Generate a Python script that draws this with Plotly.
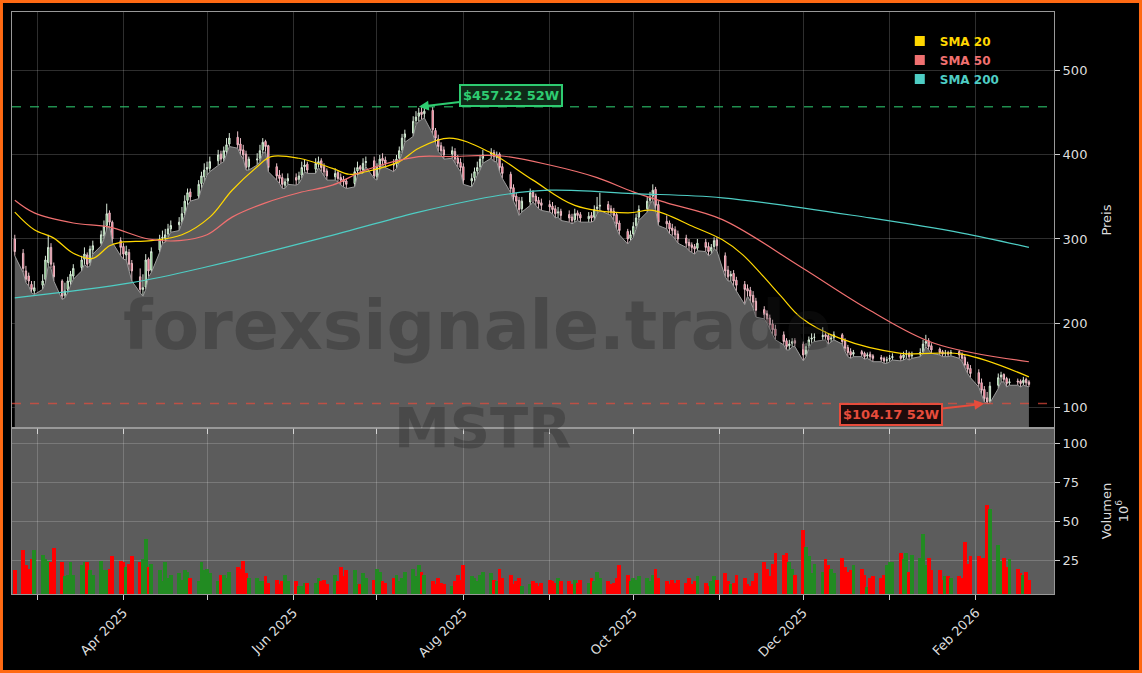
import pandas as pd
import plotly.graph_objects as go
from plotly.subplots import make_subplots

# --- daily data (USD / millions of shares) ---
dates = pd.bdate_range("2025-02-21", "2026-02-20")

closes = [285,
    265, 252, 250, 240, 242,  250, 275, 290, 270, 255,  232, 238, 250, 258, 265,
    275, 282, 270, 288, 292,  305, 315, 330, 320, 300,  290, 282, 285, 270, 262,
    240, 242, 275, 262, 285,  300, 302, 305, 312, 316,  320, 330, 345, 355, 350,
    365, 375, 382, 385, 392,  400, 395, 405, 412, 420,  412, 405, 400, 385, 395,
    395, 405, 415, 410, 385,  375, 372, 365, 368, 372,  370, 375, 385, 388, 382,
    390, 392, 385, 380, 375,  378, 372, 370, 368, 365,  380, 385, 383, 390, 392,
    375, 385, 395, 393, 390,  388, 395, 405, 420, 425,  440, 445, 450, 448, 452,
    430, 420, 410, 405, 400,  405, 395, 390, 385, 370,  372, 380, 385, 395, 400,
    402, 398, 400, 385, 378,  360, 350, 345, 335, 345,  355, 350, 345, 342, 340,
    338, 335, 330, 332, 328,  325, 322, 330, 328, 325,  327, 325, 335, 338, 340,
    335, 332, 328, 318, 310,  300, 305, 315, 325, 335,  345, 350, 358, 340, 320,
    318, 312, 310, 305, 300,  295, 292, 290, 288, 295,  290, 285, 290, 298, 292,
    262, 255, 258, 250, 245,  240, 238, 232, 225, 215,  210, 205, 198, 192, 185,
    178, 172, 175, 178, 176,  162, 172, 180, 182, 183,  185, 184, 180, 182, 186,
    178, 170, 165, 162, 165,  163, 160, 162, 160, 158,  157, 155, 156, 158, 160,
    158, 162, 163, 160, 162,  165, 175, 178, 172, 168,  165, 163, 164, 163, 165,
    162, 158, 150, 145, 140,  128, 120, 110, 106, 125,  135, 138, 133, 128, 130,
    130, 128, 132, 129, 127]

opens = [300,
    283, 262, 256, 246, 238,  245, 252, 272, 290, 268,  250, 233, 240, 249, 256,
    266, 276, 281, 272, 287,  295, 304, 316, 331, 320,  298, 291, 281, 284, 271,
    255, 240, 243, 276, 263,  287, 301, 301, 306, 312,  317, 321, 331, 346, 356,
    351, 366, 374, 383, 384,  393, 401, 396, 404, 413,  421, 413, 406, 401, 386,
    394, 396, 406, 416, 411,  386, 376, 373, 364, 369,  373, 371, 376, 386, 389,
    383, 389, 393, 386, 381,  374, 379, 373, 371, 369,  366, 381, 386, 382, 391,
    393, 374, 386, 396, 394,  389, 389, 396, 406, 421,  426, 441, 446, 451, 449,
    453, 429, 419, 411, 406,  401, 404, 396, 391, 386,  369, 373, 381, 386, 396,
    401, 403, 397, 401, 386,  377, 361, 351, 346, 336,  344, 356, 351, 346, 343,
    341, 339, 336, 331, 333,  329, 326, 323, 331, 329,  324, 328, 326, 336, 339,
    341, 336, 333, 329, 319,  309, 301, 306, 316, 326,  336, 346, 351, 359, 341,
    321, 319, 313, 311, 306,  301, 296, 293, 291, 289,  296, 291, 286, 291, 299,
    280, 263, 256, 259, 251,  246, 241, 239, 233, 226,  216, 211, 206, 199, 193,
    186, 179, 173, 176, 179,  175, 163, 173, 181, 183,  184, 186, 185, 181, 183,
    186, 179, 171, 166, 163,  166, 164, 161, 163, 161,  159, 158, 156, 157, 159,
    161, 159, 163, 164, 161,  163, 166, 176, 179, 173,  169, 166, 164, 165, 164,
    166, 163, 159, 151, 146,  141, 129, 121, 111, 107,  126, 136, 139, 134, 129,
    131, 131, 129, 133, 130]

highs = [305,
    288, 268, 260, 250, 250,  258, 280, 305, 295, 272,  252, 248, 255, 262, 270,
    280, 290, 284, 292, 298,  310, 322, 342, 334, 322,  302, 295, 292, 288, 275,
    265, 258, 282, 278, 290,  305, 310, 312, 318, 322,  326, 338, 352, 360, 360,
    370, 380, 390, 392, 398,  406, 405, 410, 420, 426,  428, 420, 412, 405, 398,
    402, 412, 420, 418, 412,  390, 382, 378, 372, 378,  378, 380, 392, 394, 392,
    396, 398, 396, 390, 384,  384, 382, 378, 375, 372,  385, 392, 388, 396, 398,
    398, 390, 400, 402, 398,  395, 400, 410, 425, 430,  446, 452, 456, 457.22, 457,
    457, 432, 424, 415, 410,  410, 408, 400, 396, 390,  378, 385, 392, 400, 406,
    408, 406, 404, 403, 390,  380, 365, 355, 350, 350,  360, 358, 354, 350, 348,
    346, 344, 340, 338, 336,  334, 330, 336, 334, 332,  332, 332, 340, 350, 355,
    345, 340, 337, 332, 322,  312, 310, 320, 330, 340,  350, 356, 365, 362, 345,
    328, 322, 318, 315, 310,  305, 300, 296, 294, 300,  300, 296, 294, 302, 302,
    284, 268, 262, 263, 255,  250, 246, 243, 238, 230,  220, 215, 210, 204, 198,
    190, 182, 180, 182, 182,  178, 176, 184, 188, 188,  195, 190, 188, 186, 190,
    188, 182, 174, 170, 168,  168, 166, 165, 166, 163,  162, 160, 160, 162, 164,
    164, 166, 168, 166, 166,  170, 180, 186, 182, 176,  171, 168, 168, 167, 168,
    168, 165, 162, 154, 150,  145, 134, 125, 118, 130,  140, 142, 140, 136, 134,
    134, 133, 136, 135, 132]

lows = [280,
    260, 248, 244, 236, 234,  240, 248, 268, 265, 250,  228, 230, 236, 245, 252,
    262, 270, 266, 268, 282,  292, 300, 312, 316, 296,  280, 276, 275, 262, 250,
    236, 232, 240, 255, 260,  284, 295, 296, 302, 308,  310, 318, 328, 340, 345,
    348, 360, 368, 376, 380,  388, 390, 392, 400, 410,  408, 400, 395, 382, 382,
    388, 392, 402, 404, 380,  370, 366, 360, 360, 365,  364, 366, 372, 380, 378,
    378, 385, 380, 375, 370,  370, 368, 364, 362, 360,  362, 376, 378, 378, 386,
    372, 370, 382, 388, 385,  380, 384, 392, 402, 415,  422, 436, 440, 442, 444,
    425, 414, 404, 400, 395,  396, 390, 385, 380, 365,  362, 368, 376, 382, 390,
    396, 392, 392, 380, 372,  355, 345, 338, 328, 332,  340, 344, 340, 336, 334,
    332, 330, 325, 326, 322,  320, 318, 320, 322, 320,  320, 320, 322, 330, 334,
    330, 328, 322, 312, 305,  294, 298, 302, 312, 322,  332, 342, 346, 335, 316,
    312, 306, 304, 300, 295,  290, 286, 284, 282, 286,  285, 280, 282, 288, 286,
    255, 250, 250, 244, 238,  222, 232, 226, 218, 207,  205, 200, 192, 186, 180,
    174, 168, 168, 172, 172,  155, 160, 170, 176, 178,  180, 180, 175, 177, 180,
    175, 166, 160, 158, 160,  160, 157, 158, 156, 154,  154, 152, 152, 154, 156,
    155, 156, 158, 156, 158,  160, 164, 172, 168, 164,  162, 160, 160, 160, 161,
    158, 154, 146, 140, 135,  124, 115, 106, 104.17, 105,  122, 130, 130, 124, 126,
    126, 124, 126, 125, 124]

volumes = [19,
    32, 22, 20, 26, 32,  29, 26, 25, 24, 33,  24, 15, 16, 24, 16,
    22, 24, 24, 19, 16,  25, 19, 19, 20, 28,  25, 24, 21, 23, 28,
    24, 26, 39, 21, 23,  19, 12, 24, 14, 16,  17, 13, 19, 18, 14,
    12, 24, 19, 20, 17,  12, 16, 16, 14, 18,  21, 20, 25, 17, 14,
    14, 12, 12, 15, 11,  13, 10, 12, 16, 12,  12, 9, 9, 11, 11,
    11, 14, 12, 13, 10,  16, 12, 21, 15, 19,  19, 10, 10, 17, 14,
    13, 20, 18, 12, 11,  14, 16, 12, 14, 18,  20, 15, 22, 18, 16,
    12, 10, 14, 11, 10,  9, 12, 16, 13, 22,  15, 14, 12, 16, 18,
    17, 13, 12, 20, 14,  16, 10, 12, 14, 9,  10, 12, 11, 9, 11,
    13, 12, 11, 14, 12,  12, 10, 13, 11, 13,  11, 14, 12, 18, 14,
    12, 10, 11, 14, 22,  16, 12, 14, 13, 15,  14, 12, 16, 20, 14,
    12, 10, 13, 11, 13,  11, 14, 10, 12, 15,  11, 9, 12, 15, 13,
    17, 12, 10, 11, 16,  14, 10, 9, 12, 17,  24, 20, 15, 23, 30,
    29, 30, 24, 20, 16,  45, 34, 28, 17, 23,  18, 26, 22, 20, 17,
    27, 21, 18, 19, 22,  20, 16, 8, 14, 15,  14, 16, 22, 24, 24,
    30, 26, 30, 18, 29,  27, 42, 22, 27, 19,  19, 13, 15, 15, 14,
    15, 14, 37, 23, 28,  28, 27, 27, 61, 58,  35, 25, 27, 21, 26,
    20, 17, 16, 18, 13]

# moving averages at sample dates
sma20_dates = ["2025-02-21", "2025-02-28", "2025-03-07", "2025-03-14", "2025-03-21", "2025-03-27",
               "2025-03-31", "2025-04-11", "2025-04-22", "2025-05-02", "2025-05-10", "2025-05-19",
               "2025-05-24", "2025-06-03", "2025-06-15", "2025-06-21", "2025-06-27", "2025-07-09",
               "2025-07-16", "2025-07-27", "2025-08-10", "2025-08-26", "2025-09-10", "2025-09-29",
               "2025-10-08", "2025-10-23", "2025-11-02", "2025-11-09", "2025-11-16", "2025-11-23",
               "2025-11-30", "2025-12-14", "2026-01-05", "2026-01-27", "2026-02-20"]
sma20_vals = [332, 311, 301, 283, 277, 292, 296, 298, 305, 326, 358, 386, 398, 396, 384, 377, 380,
              392, 408, 420, 404, 370, 340, 331, 334, 314, 299, 282, 258, 232, 207, 182, 164, 163, 136]

sma50_dates = ["2025-02-21", "2025-02-28", "2025-03-14", "2025-03-27", "2025-04-10", "2025-04-21",
               "2025-05-01", "2025-05-10", "2025-05-22", "2025-06-03", "2025-06-15", "2025-06-27",
               "2025-07-16", "2025-07-27", "2025-08-14", "2025-09-01", "2025-09-18", "2025-10-01",
               "2025-10-13", "2025-11-02", "2025-11-30", "2025-12-25", "2026-01-17", "2026-02-20"]
sma50_vals = [346, 331, 319, 314, 300, 298, 305, 326, 343, 355, 364, 382, 398, 398, 399, 388,
              373, 356, 343, 323, 267, 215, 176, 154]

sma200_dates = ["2025-02-21", "2025-04-04", "2025-05-01", "2025-06-11", "2025-07-09", "2025-07-16",
                "2025-08-14", "2025-09-01", "2025-10-01", "2025-11-02", "2025-12-25", "2026-01-27",
                "2026-02-20"]
sma200_vals = [230, 248, 267, 301, 326, 332, 352, 358, 354, 349, 325, 307, 290]

high_52w = 457.22
high_52w_date = "2025-07-16"
low_52w = 104.17
low_52w_date = "2026-02-04"

FONT = "DejaVu Sans"
vol_colors = ["#228b22" if c >= o else "#ff0000" for o, c in zip(opens, closes)]

fig = make_subplots(rows=2, cols=1, shared_xaxes=True, vertical_spacing=0,
                    row_heights=[0.715, 0.285])

# gray panel behind volume
fig.add_shape(type="rect", xref="x2 domain", yref="y2 domain", x0=0, x1=1, y0=0, y1=1,
              fillcolor="#5c5c5c", line_width=0, layer="below")

# gray area under the price
fig.add_trace(go.Scatter(x=dates, y=lows, mode="lines", fill="tozeroy",
                         fillcolor="#5c5c5c", line=dict(color="#9a9a9a", width=1),
                         showlegend=False, hoverinfo="skip"), row=1, col=1)

fig.add_trace(go.Candlestick(
    x=dates, open=opens, high=highs, low=lows, close=closes,
    increasing=dict(fillcolor="#4caf50", line=dict(color="#d8e8d8", width=1)),
    decreasing=dict(fillcolor="#ff4d6d", line=dict(color="#e8c0c8", width=1)),
    whiskerwidth=0, showlegend=False), row=1, col=1)

for nm, dx, dy, col in [("SMA 20", sma20_dates, sma20_vals, "#ffd700"),
                        ("SMA 50", sma50_dates, sma50_vals, "#f07070"),
                        ("SMA 200", sma200_dates, sma200_vals, "#4ecdc4")]:
    fig.add_trace(go.Scatter(x=dx, y=dy, mode="lines", line=dict(color=col, width=1.2, shape="spline"),
                             showlegend=False, hoverinfo="skip"), row=1, col=1)
    fig.add_trace(go.Scatter(x=[None], y=[None], mode="markers",
                             marker=dict(symbol="square", size=10, color=col),
                             name=f"<b><span style='color:{col}'>{nm}</span></b>"), row=1, col=1)

fig.add_trace(go.Bar(x=dates, y=volumes, width=86400000 * 1.35,
                     marker=dict(color=vol_colors, line_width=0),
                     showlegend=False), row=2, col=1)

fig.add_hline(y=high_52w, line=dict(color="#2ecc71", width=1.5, dash="dash"), opacity=0.7, row=1, col=1)
fig.add_hline(y=low_52w, line=dict(color="#e74c3c", width=1.5, dash="dash"), opacity=0.7, row=1, col=1)

fig.add_annotation(x=high_52w_date, y=high_52w, xref="x", yref="y", text=f"<b>${high_52w:.2f} 52W</b>",
                   showarrow=True, arrowhead=2, arrowsize=1, arrowwidth=2, arrowcolor="#2ecc71",
                   ax=92, ay=-11, font=dict(family=FONT, size=13, color="#2ecc71"),
                   bgcolor="#0f2a18", bordercolor="#2ecc71", borderwidth=2, borderpad=2)
fig.add_annotation(x=low_52w_date, y=low_52w, xref="x", yref="y", text=f"<b>${low_52w:.2f} 52W</b>",
                   showarrow=True, arrowhead=2, arrowsize=1, arrowwidth=2, arrowcolor="#e74c3c",
                   ax=-93, ay=11, font=dict(family=FONT, size=13, color="#e74c3c"),
                   bgcolor="#1e0c0c", bordercolor="#e74c3c", borderwidth=2, borderpad=2)

# watermark
fig.add_annotation(x=0.447, y=0.462, xref="paper", yref="paper", text="<b>forexsignale.trade</b>",
                   showarrow=False, font=dict(family=FONT, size=68, color="rgba(30,30,30,0.3)"))
fig.add_annotation(x=0.452, y=0.227, xref="paper", yref="paper", text="<b>MSTR</b>",
                   showarrow=False, font=dict(family=FONT, size=56, color="rgba(30,30,30,0.3)"))

# orange frame around the window
fig.add_shape(type="rect", xref="paper", yref="paper", x0=-0.0101, x1=1.083, y0=-0.133, y1=1.018,
              line=dict(color="#ff6a13", width=3), fillcolor="rgba(0,0,0,0)")

months = pd.date_range("2025-03-01", "2026-02-01", freq="MS")
month_text = [d.strftime("%b %Y") if d.month % 2 == 0 else "" for d in months]
grid = "rgba(255,255,255,0.18)"
axis_common = dict(showline=True, linecolor="#999", mirror=True, gridcolor=grid,
                   ticks="outside", tickcolor="#ccc", zeroline=False, automargin=False)

fig.update_xaxes(range=["2025-02-20", "2026-03-01"], tickvals=months, ticktext=month_text,
                 rangeslider_visible=False, **axis_common)
fig.update_xaxes(showticklabels=False, row=1, col=1)
fig.update_xaxes(tickangle=-45, tickfont=dict(size=13, color="#ddd"), row=2, col=1)
fig.update_yaxes(side="right", tickfont=dict(size=13, color="#ddd"), **axis_common)
fig.update_yaxes(range=[75, 570], tickvals=[100, 200, 300, 400, 500], row=1, col=1,
                 title=dict(text="Preis", font=dict(size=13, color="#ddd")))
fig.update_yaxes(range=[3.8, 110], tickvals=[25, 50, 75, 100], row=2, col=1,
                 title=dict(text="Volumen<br>10<sup>6</sup>", font=dict(size=13, color="#ddd")))

fig.update_layout(
    width=1142, height=673,
    paper_bgcolor="#000000", plot_bgcolor="#000000",
    margin=dict(l=12, r=88, t=12, b=79, autoexpand=False),
    font=dict(family=FONT, color="#ddd"),
    bargap=0, hovermode="x",
    legend=dict(x=0.852, y=0.975, xanchor="left", yanchor="top", bgcolor="rgba(0,0,0,0)",
                font=dict(size=12), itemwidth=30, tracegroupgap=0),
)

fig.write_html("out.html", config={"displayModeBar": False},
               post_script="document.body.style.margin='0';document.body.style.background='#000';")
